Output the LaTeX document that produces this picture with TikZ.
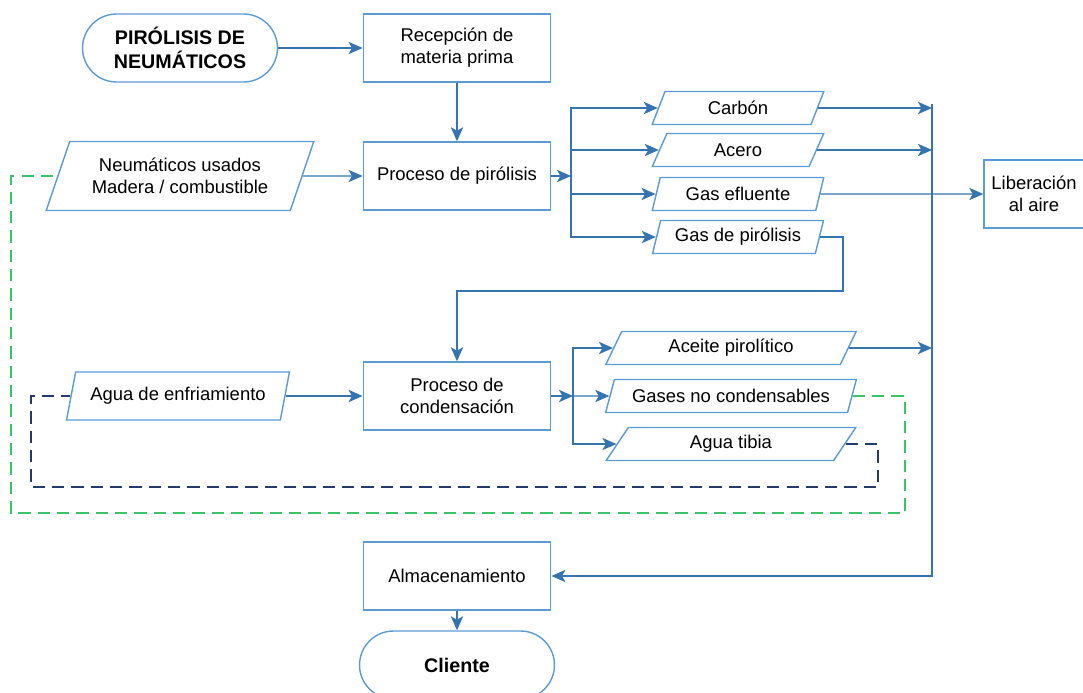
\documentclass[tikz,border=0pt]{standalone}
\usepackage{fontspec}
\setmainfont{Liberation Sans}
\usepackage{xcolor}
\usetikzlibrary{shapes.geometric,arrows.meta}
\definecolor{b1}{HTML}{5B9BD5}
\definecolor{b2}{HTML}{3574AE}
\definecolor{g1}{HTML}{3CC36A}
\definecolor{n1}{HTML}{243A6B}

\tikzset{
	proc/.style = {rectangle, draw = b1, line width = 0.8pt, fill = white, align = center,
		minimum width = 3.75cm, minimum height = 1.36cm},
	dato/.style = {trapezium, trapezium stretches = true, draw = b1, line width = 0.8pt,
		fill = white, align = center, inner sep = 1pt},
	term/.style = {rectangle, rounded corners = 0.68cm, draw = b1, line width = 0.8pt,
		fill = white, align = center, font = \fontsize{11.2}{13.5}\selectfont\bfseries,
		minimum width = 3.9cm, minimum height = 1.36cm},
	flecha/.style = {-{Stealth[length=8pt,width=7pt,inset=2pt]}, b2, line width = 0.8pt},
	retorno/.style = {line width = 0.8pt, dash pattern = on 7pt off 4pt}
}

\begin{document}
\begin{tikzpicture}[x = 0.02cm, y = -0.02cm, font = \fontsize{10.5}{12.5}\selectfont]
	\useasboundingbox (0,0) rectangle (1083,693);
	\begin{scope}
	% bloques principales
	\node [term] (inicio) at (180,48) {PIRÓLISIS DE\\NEUMÁTICOS};
	\node [proc] (recep) at (457,48) {Recepción de\\materia prima};
	\node [proc] (piro) at (457,176) {Proceso de pirólisis};
	\node [dato, trapezium left angle = 64, trapezium right angle = 116,
		minimum width = 5.36cm, minimum height = 1.38cm] (neum) at (180,176) {Neumáticos usados\\Madera / combustible};
	\node [proc] (cond) at (457,396) {Proceso de\\condensación};
	\node [dato, trapezium left angle = 69, trapezium right angle = 111,
		minimum width = 4.46cm, minimum height = 0.96cm] (agua) at (178,396) {Agua de enfriamiento};
	\node [proc] (alma) at (457,576) {Almacenamiento};
	\node [term] (cliente) at (457,665) {Cliente};
	\node [proc, minimum width = 2cm, inner sep = 2pt] (libera) at (1034,194) {Liberación\\al aire};
	% productos de la pirolisis
	\tikzset{sal1/.style = {dato, trapezium left angle = 72, trapezium right angle = 108,
		minimum width = 3.44cm, minimum height = 0.66cm}}
	\node [sal1] (carbon) at (738,108) {Carbón};
	\node [sal1] (acero) at (738,150) {Acero};
	\node [sal1] (efluente) at (738,194) {Gas efluente};
	\node [sal1] (gaspiro) at (738,237) {Gas de pirólisis};
	% productos de la condensacion
	\tikzset{sal2/.style = {dato, trapezium left angle = 66, trapezium right angle = 114,
		minimum width = 5.02cm, minimum height = 0.66cm}}
	\node [sal2] (aceite) at (731,348) {Aceite pirolítico};
	\node [sal2] (gases) at (731,396) {Gases no condensables};
	\node [sal2] (tibia) at (731,444) {Agua tibia};
	% puntos auxiliares
	\coordinate (ram1) at (571,176);
	\coordinate (ram2) at (573,396);
	\coordinate (busA) at (932,104);
	\coordinate (vuelta) at (843,291);
	\coordinate (verde1) at (905,513);
	\coordinate (verde2) at (11,513);
	\coordinate (azul1) at (878,487);
	\coordinate (azul2) at (31,487);

	\draw [flecha] (inicio) -- (recep);
	\draw [flecha] (recep) -- (piro);
	\draw [flecha] (neum.east) -- (piro.west);
	\draw [flecha] (piro.east) -- (ram1);
	\draw [flecha] (ram1) |- (carbon.west);
	\draw [flecha] (ram1) |- (acero.west);
	\draw [flecha] (ram1) |- (efluente.west);
	\draw [flecha] (ram1) |- (gaspiro.west);
	\draw [flecha] (carbon.east) -- (carbon.east -| busA);
	\draw [flecha] (acero.east) -- (acero.east -| busA);
	\draw [flecha] (efluente.east) -- (libera.west);
	\draw [flecha] (gaspiro.east) -| (vuelta) -| (cond.north);
	\draw [flecha] (agua.east) -- (cond.west);
	\draw [flecha] (cond.east) -- (ram2);
	\draw [flecha] (ram2) |- (aceite.west);
	\draw [flecha] (ram2) -- (gases.west);
	\draw [flecha] (ram2) |- (tibia.west);
	\draw [flecha] (aceite.east) -- (aceite.east -| busA);
	\draw [flecha] (busA) |- (alma.east);
	\draw [flecha] (alma) -- (cliente);
	% recirculaciones
	\draw [retorno, g1] (gases.east) -| (verde1) -- (verde2) |- (neum.west);
	\draw [retorno, n1] (tibia.east) -| (azul1) -- (azul2) |- (agua.west);
	\end{scope}
\end{tikzpicture}
\end{document}
